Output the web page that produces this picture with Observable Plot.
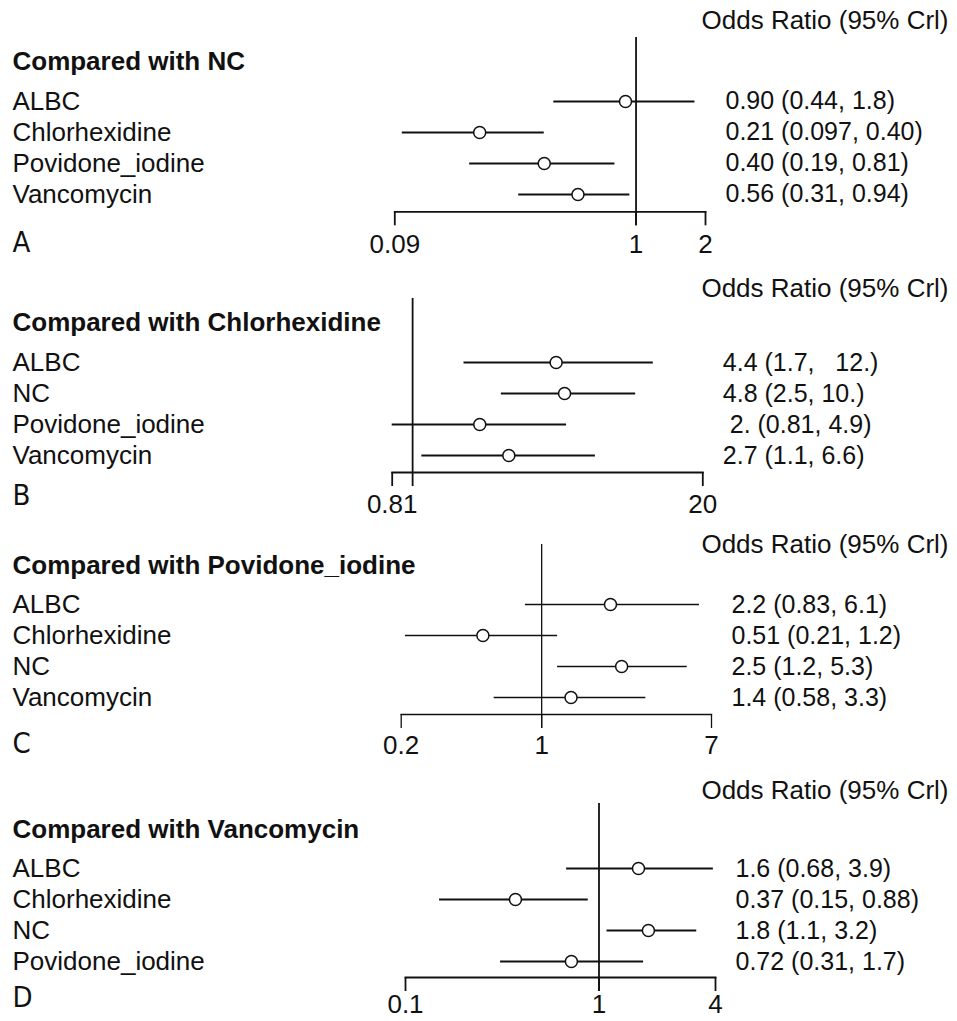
<!DOCTYPE html>
<html>
<head>
<meta charset="utf-8">
<script src="https://cdn.jsdelivr.net/npm/d3@7"></script>
<script src="https://cdn.jsdelivr.net/npm/@observablehq/plot@0.6"></script>
<style>
  html, body { margin: 0; padding: 0; background: #fff; }
  #chart { position: relative; width: 957px; height: 1021px; overflow: hidden; background: #fff; }
  #chart svg { position: absolute; left: 0; white-space: pre; }
</style>
</head>
<body>
<div id="chart"></div>
<script>
// ---------------- DATA ----------------
const header = "Odds Ratio (95% Crl)";
const panelTitles = ["Compared with NC", "Compared with Chlorhexidine", "Compared with Povidone_iodine", "Compared with Vancomycin"];
const panelLetters = ["A", "B", "C", "D"];

const treatmentsA = ["ALBC", "Chlorhexidine", "Povidone_iodine", "Vancomycin"];
const orA = [0.90, 0.21, 0.40, 0.56];
const lowerA = [0.44, 0.097, 0.19, 0.31];
const upperA = [1.8, 0.40, 0.81, 0.94];
const labelsA = ["0.90 (0.44, 1.8)", "0.21 (0.097, 0.40)", "0.40 (0.19, 0.81)", "0.56 (0.31, 0.94)"];
const domainA = [0.09, 2];
const ticksA = [0.09, 1, 2];
const tickLabelsA = ["0.09", "1", "2"];

const treatmentsB = ["ALBC", "NC", "Povidone_iodine", "Vancomycin"];
const orB = [4.4, 4.8, 2.0, 2.7];
const lowerB = [1.7, 2.5, 0.81, 1.1];
const upperB = [12, 10, 4.9, 6.6];
const labelsB = ["4.4 (1.7,   12.)", "4.8 (2.5, 10.)", " 2. (0.81, 4.9)", "2.7 (1.1, 6.6)"];
const domainB = [0.81, 20];
const ticksB = [0.81, 20];
const tickLabelsB = ["0.81", "20"];

const treatmentsC = ["ALBC", "Chlorhexidine", "NC", "Vancomycin"];
const orC = [2.2, 0.51, 2.5, 1.4];
const lowerC = [0.83, 0.21, 1.2, 0.58];
const upperC = [6.1, 1.2, 5.3, 3.3];
const labelsC = ["2.2 (0.83, 6.1)", "0.51 (0.21, 1.2)", "2.5 (1.2, 5.3)", "1.4 (0.58, 3.3)"];
const domainC = [0.2, 7];
const ticksC = [0.2, 1, 7];
const tickLabelsC = ["0.2", "1", "7"];

const treatmentsD = ["ALBC", "Chlorhexidine", "NC", "Povidone_iodine"];
const orD = [1.6, 0.37, 1.8, 0.72];
const lowerD = [0.68, 0.15, 1.1, 0.31];
const upperD = [3.9, 0.88, 3.2, 1.7];
const labelsD = ["1.6 (0.68, 3.9)", "0.37 (0.15, 0.88)", "1.8 (1.1, 3.2)", "0.72 (0.31, 1.7)"];
const domainD = [0.1, 4];
const ticksD = [0.1, 1, 4];
const tickLabelsD = ["0.1", "1", "4"];

const refValue = 1;

// ---------------- LAYOUT (pixels / styles) ----------------
const W = 957;
const FONT = "'Liberation Sans', Arial, Helvetica, sans-serif";
const LETTER_FONT = "'Liberation Sans Narrow', 'DejaVu Sans Condensed', 'Roboto Condensed', 'Liberation Sans', sans-serif";
const LABEL_X = 12;
const HEADER_RIGHT = 948;
const TICK_LEN = 14;
const layout = [
  {left: 394.3, right: 705,   lineTop: 36.7,  baseline: 211,   insetTop: 63.3, insetBottom: 16,   headerDy: -16.7, titleDy: 23.8, tickDy: 33, letterDy: 31, lw: 1.8},
  {left: 391.7, right: 702.3, lineTop: 298.3, baseline: 472.3, insetTop: 63.4, insetBottom: 16.3, headerDy: -10,   titleDy: 23.7, tickDy: 32, letterDy: 23, lw: 1.8},
  {left: 400.7, right: 711,   lineTop: 544,   baseline: 714,   insetTop: 59.3, insetBottom: 15.7, headerDy: 0,     titleDy: 21,   tickDy: 31, letterDy: 29, lw: 1.3},
  {left: 405,   right: 715,   lineTop: 802.7, baseline: 976.7, insetTop: 64,   insetBottom: 15.7, headerDy: -12.7, titleDy: 26,   tickDy: 27, letterDy: 20, lw: 1.8}
];

const panels = [
  {names: treatmentsA, or: orA, lo: lowerA, hi: upperA, labels: labelsA, domain: domainA, ticks: ticksA, tickLabels: tickLabelsA},
  {names: treatmentsB, or: orB, lo: lowerB, hi: upperB, labels: labelsB, domain: domainB, ticks: ticksB, tickLabels: tickLabelsB},
  {names: treatmentsC, or: orC, lo: lowerC, hi: upperC, labels: labelsC, domain: domainC, ticks: ticksC, tickLabels: tickLabelsC},
  {names: treatmentsD, or: orD, lo: lowerD, hi: upperD, labels: labelsD, domain: domainD, ticks: ticksD, tickLabels: tickLabelsD}
];

const chart = document.getElementById("chart");

panels.forEach((d, i) => {
  const L = layout[i];
  const marginTop = 60, marginBottom = 60;
  const frameH = L.baseline - L.lineTop;
  const height = marginTop + frameH + marginBottom;
  const rows = d.names.map((n, j) => ({name: n, or: d.or[j], lo: d.lo[j], hi: d.hi[j], label: d.labels[j]}));
  const tickData = d.ticks.map((v, j) => ({value: v, label: d.tickLabels[j]}));
  const svg = Plot.plot({
    width: W,
    height,
    marginTop,
    marginBottom,
    marginLeft: L.left,
    marginRight: W - L.right,
    style: {background: "transparent", fontFamily: FONT, fontSize: "25px", overflow: "visible", color: "#111"},
    x: {type: "log", domain: d.domain, axis: null},
    y: {type: "point", domain: d.names, padding: 0, insetTop: L.insetTop, insetBottom: L.insetBottom, axis: null},
    marks: [
      // axis baseline
      Plot.frame({anchor: "bottom", strokeWidth: L.lw}),
      // tick marks hanging below the baseline
      Plot.ruleX(tickData, {x: "value", insetTop: frameH, insetBottom: -TICK_LEN, strokeWidth: L.lw}),
      // tick labels
      Plot.text(tickData, {x: "value", text: "label", frameAnchor: "bottom", lineAnchor: "middle", dy: L.tickDy, fontSize: 26}),
      // reference line at OR = 1
      Plot.ruleX([refValue], {insetBottom: -TICK_LEN, strokeWidth: L.lw}),
      // credible intervals
      Plot.ruleY(rows, {y: "name", x1: "lo", x2: "hi", strokeWidth: L.lw}),
      // point estimates
      Plot.dot(rows, {x: "or", y: "name", r: 6, fill: "white", stroke: "#111", strokeWidth: 1.5}),
      // row labels
      Plot.text(rows, {y: "name", text: "name", frameAnchor: "left", textAnchor: "start", lineAnchor: "middle", dx: LABEL_X - L.left, fontSize: 26}),
      // value labels
      Plot.text(rows, {y: "name", text: "label", frameAnchor: "right", textAnchor: "start", lineAnchor: "middle", dx: 20, fontSize: 25}),
      // panel title
      Plot.text([panelTitles[i]], {text: (t) => t, frameAnchor: "top-left", textAnchor: "start", lineAnchor: "middle", dx: LABEL_X - L.left, dy: L.titleDy, fontSize: 26, fontWeight: "bold"}),
      // column header
      Plot.text([header], {text: (t) => t, frameAnchor: "top-right", textAnchor: "end", lineAnchor: "middle", dx: HEADER_RIGHT - L.right, dy: L.headerDy, fontSize: 26}),
      // panel letter
      Plot.text([panelLetters[i]], {text: (t) => t, frameAnchor: "bottom-left", textAnchor: "start", lineAnchor: "middle", dx: LABEL_X - L.left, dy: L.letterDy, fontSize: 29, fontFamily: LETTER_FONT})
    ]
  });
  svg.style.top = (L.lineTop - marginTop) + "px";
  chart.appendChild(svg);
});
</script>
</body>
</html>
